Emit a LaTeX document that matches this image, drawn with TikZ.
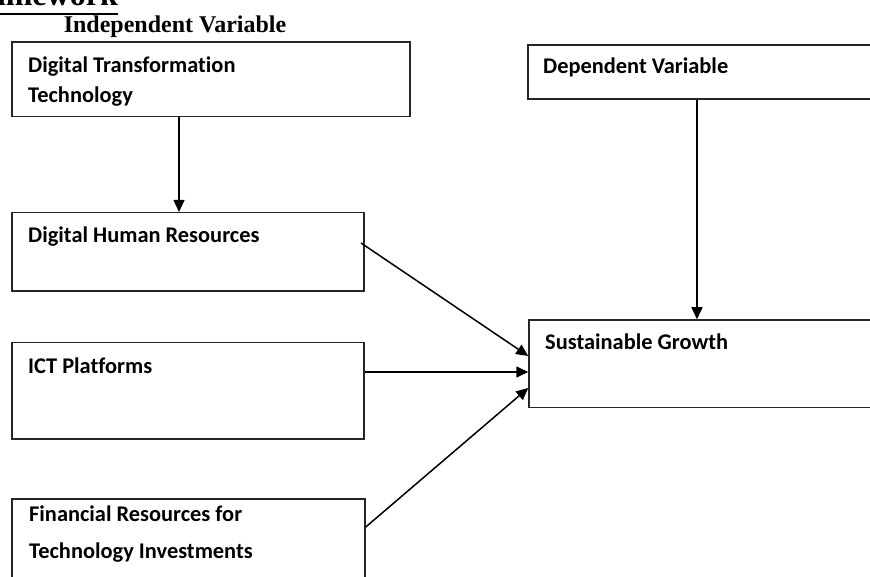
\documentclass[tikz,border=0pt]{standalone}
\usepackage{fontspec}
\setmainfont{Liberation Serif}
\newfontfamily\calfont{Carlito}[Ligatures={NoCommon}]
\usetikzlibrary{arrows.meta}

\begin{document}
\begin{tikzpicture}[x=1pt,y=-1pt,
    box/.style={draw=black!85, line width=1.5pt, inner sep=0pt},
    lbl/.style={anchor=base west, inner sep=0pt, align=left,
        font=\calfont\bfseries\fontsize{22.4}{30}\selectfont},
    arr/.style={-{Triangle[length=12pt,width=11pt]}, line width=1.5pt}]
    \useasboundingbox (0,0) rectangle (870,577);
    \clip (0,0) rectangle (870,577);
    % headings
    \node[anchor=base east, inner sep=0pt, font=\bfseries\fontsize{32}{32}\selectfont] (fw) at (118,6) {Framework};
    \draw[line width=2pt] (0,14) -- (fw.east |- 0,14);
    \node[anchor=base, inner sep=0pt, font=\bfseries\fontsize{24}{24}\selectfont] (iv) at (175,33) {Independent Variable};
    % boxes
    \node[box, minimum width=398pt, minimum height=74.5pt] (dtt) at (211,79.25) {};
    \node[box, minimum width=372pt, minimum height=54pt] (dv) at (714,72) {};
    \node[box, minimum width=352pt, minimum height=78.3pt] (dhr) at (188,251.85) {};
    \node[box, minimum width=352pt, minimum height=96.3pt] (ict) at (188,390.85) {};
    \node[box, minimum width=371pt, minimum height=87.7pt] (sg) at (714.5,363.85) {};
    \node[box, minimum width=353pt, minimum height=121pt] (fin) at (188.5,559.5) {};
    % labels (base = last line)
    \node[lbl] (dtt-t) at (28,102.7) {Digital Transformation\\Technology};
    \node[lbl] (dv-t) at (543,74) {Dependent Variable};
    \node[lbl] (dhr-t) at (28,243) {Digital Human Resources};
    \node[lbl] (ict-t) at (28,373) {ICT Platforms};
    \node[lbl] (sg-t) at (545,349) {Sustainable Growth};
    \node[lbl, font=\calfont\bfseries\fontsize{22.4}{37}\selectfont] (fin-t) at (29,558) {Financial Resources for\\Technology Investments};
    % arrows
    \draw[arr] (dtt.south -| 179,0) -- (dhr.north -| 179,0);
    \draw[arr] (dv.south -| 697,0) -- (sg.north -| 697,0);
    \draw[arr] (361,243) -- (sg.west |- 0,356);
    \draw[arr] (ict.east |- 0,372) -- (sg.west |- 0,372);
    \draw[arr] (fin.east |- 0,527) -- (sg.west |- 0,388);
\end{tikzpicture}
\end{document}
